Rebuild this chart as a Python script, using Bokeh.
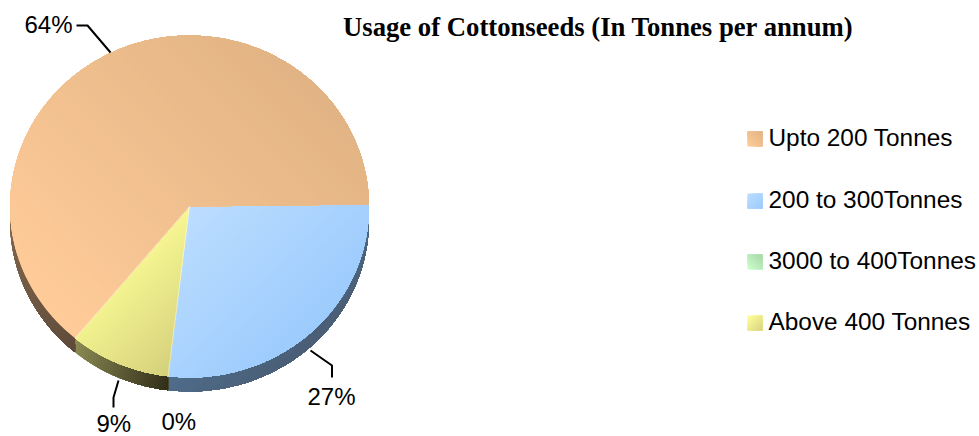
import numpy as np
from bokeh.plotting import figure
from bokeh.embed import file_html
from bokeh.resources import INLINE
from bokeh.core.properties import value

# ---- data ----
categories = ["Upto 200 Tonnes", "200 to 300Tonnes", "3000 to 400Tonnes", "Above 400 Tonnes"]
shares = [63.8, 27.1, 0, 9.1]
share_labels = ["64%", "27%", "0%", "9%"]
title = "Usage of Cottonseeds (In Tonnes per annum)"

# ---- style ----
top_from = ["#FFCC99", "#BCDDFF", "#CCFFCC", "#F6F692"]
top_to = ["#E2B384", "#9CCBFD", "#A8D6A8", "#D4D07C"]
top_dir = [(1, -1), (1, 1), (1, -1), (1, 1)]
swatch_from = ["#FFCC99", "#BCDDFF", "#CCFFCC", "#FFFF99"]
swatch_to = ["#E2B384", "#9CCBFD", "#A8D6A8", "#D8D480"]
wall_from = ["#85684F", "#4F6D8C", "#6D8C6D", "#8C8C55"]
wall_to = ["#5E4A3A", "#4A5E75", "#4A5E4A", "#302D18"]
wall_dir = [(1, 1), (1, 1), (1, 1), (1, 0.25)]
CX, CY, RX, RY, DEPTH = 189.0, 206.0, 179.5, 171.0, 14.0
START = -0.7
BANDS = 36

W, H = 979, 436
p = figure(width=W, height=H, x_range=(0, W), y_range=(H, 0),
           toolbar_location=None, output_backend="svg", min_border=0,
           outline_line_color=None)
p.axis.visible = False
p.grid.visible = False
p.background_fill_color = "white"
p.border_fill_color = "white"


def hexrgb(h):
    return np.array([int(h[i:i + 2], 16) for i in (1, 3, 5)], float)


def clip(poly, d, t0):
    """keep the part of a polygon with dot(pt, d) >= t0"""
    s = poly @ d - t0
    out = []
    n = len(poly)
    for i in range(n):
        j = (i + 1) % n
        if s[i] >= 0:
            out.append(poly[i])
        if (s[i] >= 0) != (s[j] >= 0):
            out.append(poly[i] + (poly[j] - poly[i]) * s[i] / (s[i] - s[j]))
    return np.array(out) if out else None


def shaded(poly, c0, c1, d, bands=BANDS):
    d = np.array(d, float)
    d /= np.linalg.norm(d)
    t = poly @ d
    lo, hi = t.min(), t.max()
    xs, ys, cols = [], [], []
    a, b = hexrgb(c0), hexrgb(c1)
    for k in range(bands):
        q = clip(poly, d, lo + (hi - lo) * k / bands)
        if q is None or len(q) < 3:
            continue
        f = (k + 0.5) / bands
        r, g, bl = (a + (b - a) * f).round().astype(int)
        xs.append(q[:, 0])
        ys.append(q[:, 1])
        cols.append(f"#{r:02x}{g:02x}{bl:02x}")
    p.patches(xs, ys, fill_color=cols, line_color=None)


def pt(deg, dy=0.0):
    a = np.radians(deg)
    return np.column_stack([CX + RX * np.cos(a), CY + RY * np.sin(a) + dy])


# angles run clockwise on screen from the right side of the pie
total = sum(shares)
order = [1, 2, 3, 0]
starts, a = {}, START
for i in order:
    starts[i] = (a, a + 360.0 * shares[i] / total)
    a = starts[i][1]

# side wall
for i in order:
    s, e = starts[i]
    s2, e2 = max(s, 0.0), min(e, 180.0)
    if e2 <= s2:
        continue
    ang = np.linspace(s2, e2, max(int(e2 - s2) * 2, 2))
    poly = np.vstack([pt(ang), pt(ang[::-1], DEPTH)])
    shaded(poly, wall_from[i], wall_to[i], wall_dir[i])

# top surface
for i in order:
    s, e = starts[i]
    if e <= s:
        continue
    ang = np.linspace(s, e, max(int(e - s) * 2, 2))
    poly = np.vstack([[[CX, CY]], pt(ang)])
    shaded(poly, top_from[i], top_to[i], top_dir[i])

# slice boundaries
for i in order[:-1]:
    e = starts[i][1]
    if shares[i] > 0:
        q = pt(np.array([e]))
        p.line([CX, q[0, 0]], [CY, q[0, 1]], line_color="#FFFFFF", line_alpha=0.45, line_width=1)

# leader lines
leaders_x = [[76, 87, 110], [310, 331.5, 331.5], [118, 113, 113]]
leaders_y = [[25, 25, 52], [350, 365, 377], [380, 397, 407]]
p.multi_line(leaders_x, leaders_y, line_color="black", line_width=2)

# share labels
lab_x = [24, 307, 161, 96]
lab_y = [24, 396, 421, 423]
p.text(lab_x, lab_y, text=share_labels, text_font=value("Liberation Sans"),
       text_font_size="24px", text_color="black", text_baseline="middle", text_align="left")

# title
p.text([342.5], [26], text=[title], text_font=value("Liberation Serif"), text_font_style="bold",
       text_font_size="26.7px", text_color="black", text_baseline="middle", text_align="left")

# legend
swatch_y = [138.5, 200.5, 261.5, 322.5]
legend_text_y = [137, 199, 260, 321]
for i, yc in enumerate(swatch_y):
    sq = np.array([[747, yc - 7.5], [762, yc - 7.5], [762, yc + 7.5], [747, yc + 7.5]], float)
    shaded(sq, swatch_from[i], swatch_to[i], top_dir[i], bands=8)
p.text([768] * 4, legend_text_y, text=categories, text_font=value("Liberation Sans"),
       text_font_size="24.4px", text_color="black", text_baseline="middle", text_align="left")

open("out.html", "w").write(file_html(p, INLINE))
